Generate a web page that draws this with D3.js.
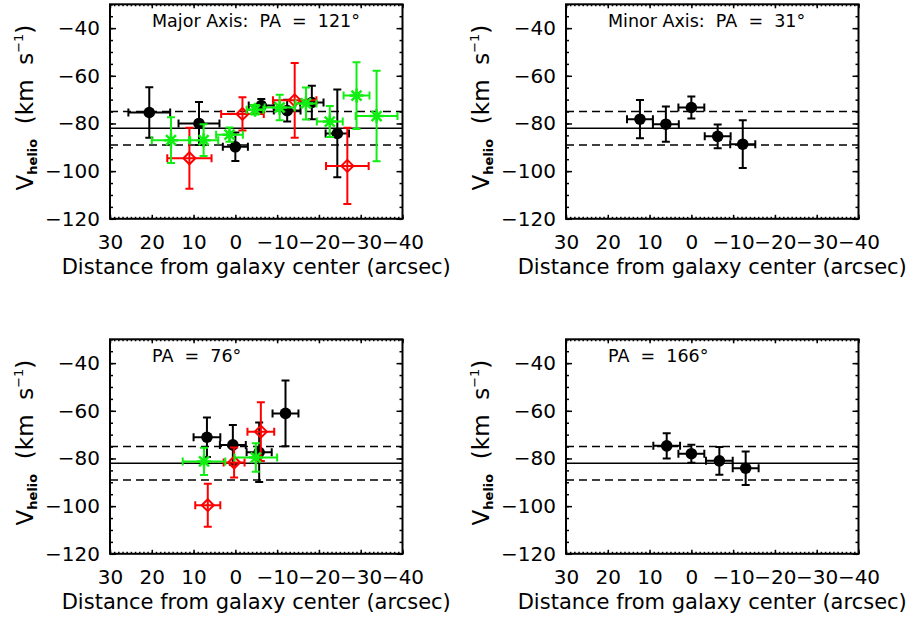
<!DOCTYPE html>
<html>
<head>
<meta charset="utf-8">
<script src="https://cdn.jsdelivr.net/npm/d3@7"></script>
<style>
body { margin: 0; background: #fff; }
text { font-family: "DejaVu Sans", sans-serif; white-space: pre; }
</style>
</head>
<body>
<script>
// tick values
var xTicks = [30, 20, 10, 0, -10, -20, -30, -40];
var yTicks = [-40, -60, -80, -100, -120];

// systemic velocity and its spread (horizontal lines)
var vSys = -82;
var vSpread = 7;

var titles = ["Major Axis:  PA  =  121°", "Minor Axis:  PA  =  31°", "PA  =  76°", "PA  =  166°"];

// Major axis, PA 121
var majBlackX  = [20.6, 8.7, 0, -6.2, -12.4, -18.3, -24.4];
var majBlackY  = [-75.4, -80, -89.8, -72.5, -74.6, -71.2, -84.2];
var majBlackXe = [5, 4.9, 3, 3, 3.2, 2.8, 2.8];
var majBlackYe = [10.6, 9, 6, 2.8, 4.6, 7, 18.4];

var majRedX  = [11, -1.7, -14.2, -26.8];
var majRedY  = [-94.6, -76, -70.3, -97.8];
var majRedXe = [5.3, 5.1, 5.2, 5.1];
var majRedYe = [12.8, 7, 15.7, 16];

var majGreenX  = [15.4, 7.6, 1.4, -4.7, -10.6, -16.9, -22.6, -29, -33.8];
var majGreenY  = [-87, -87, -84.7, -74.2, -73.3, -71.6, -79.2, -68.3, -76.9];
var majGreenXe = [4.6, 3.5, 3.2, 2, 3.6, 2.5, 3.1, 3.1, 5];
var majGreenYe = [9.6, 6.7, 3, 2, 5.3, 6.7, 6.5, 14, 19];

// Minor axis, PA 31
var minBlackX  = [12.3, 6.1, 0, -6.3, -12.3];
var minBlackY  = [-78.2, -80.3, -73.3, -85.4, -88.7];
var minBlackXe = [3.1, 3.1, 3.1, 3.1, 3];
var minBlackYe = [8, 7.4, 4.6, 5, 10];

// PA 76
var pa76BlackX  = [6.8, 0.6, -5.7, -12];
var pa76BlackY  = [-71.1, -74.3, -77.4, -61.1];
var pa76BlackXe = [3.2, 3.1, 3, 3.1];
var pa76BlackYe = [8.3, 8.3, 12.5, 13.8];

var pa76RedX  = [6.6, 0.3, -6.1];
var pa76RedY  = [-99.6, -81.7, -68.75];
var pa76RedXe = [3, 2.5, 3.2];
var pa76RedYe = [9, 6.3, 12.3];

var pa76GreenX  = [7.5, -4.9];
var pa76GreenY  = [-81.25, -79.6];
var pa76GreenXe = [5.1, 5.1];
var pa76GreenYe = [5.7, 6];

// PA 166
var pa166BlackX  = [5.9, 0, -6.7, -13];
var pa166BlackY  = [-74.7, -78, -81, -84.1];
var pa166BlackXe = [3.2, 3.1, 3.2, 3.1];
var pa166BlackYe = [5.3, 3.8, 5.8, 7];


function series(color, kind, xs, ys, xe, ye) {
    return xs.map(function(d, i) {
        return {color: color, kind: kind, x: d, y: ys[i], xe: xe[i], ye: ye[i]};
    });
}

var panelData = [
    [series("#000", "circle", majBlackX, majBlackY, majBlackXe, majBlackYe),
     series("#ff0000", "diamond", majRedX, majRedY, majRedXe, majRedYe),
     series("#11ee11", "star", majGreenX, majGreenY, majGreenXe, majGreenYe)],
    [series("#000", "circle", minBlackX, minBlackY, minBlackXe, minBlackYe)],
    [series("#000", "circle", pa76BlackX, pa76BlackY, pa76BlackXe, pa76BlackYe),
     series("#ff0000", "diamond", pa76RedX, pa76RedY, pa76RedXe, pa76RedYe),
     series("#11ee11", "star", pa76GreenX, pa76GreenY, pa76GreenXe, pa76GreenYe)],
    [series("#000", "circle", pa166BlackX, pa166BlackY, pa166BlackXe, pa166BlackYe)]
];

// layout of the four boxes
var w = 292.5, h = 214.5;
var origins = [[110, 4.3], [566, 4.3], [110, 339.3], [566, 339.3]];

var svg = d3.select("body").append("svg")
    .attr("width", 913)
    .attr("height", 624);

function styleAxis(sel, size) {
    sel.attr("font-size", size).attr("font-family", "DejaVu Sans, sans-serif");
    sel.select(".domain").remove();
    sel.selectAll(".tick line").attr("stroke", "#000").attr("stroke-width", 1.5);
    sel.selectAll(".tick text").attr("fill", "#000");
}

origins.forEach(function(o, p) {
    var g = svg.append("g").attr("transform", "translate(" + o[0] + "," + o[1] + ")");

    var x = d3.scaleLinear().domain([30, -40]).range([0, w]);
    var y = d3.scaleLinear().domain([-120, -30]).range([h, 0]);

    // major and minor ticks on all four sides, pointing inward
    var xMinor = d3.range(-40, 31, 1);
    var yMinor = d3.range(-120, -29, 5);

    g.append("g").attr("transform", "translate(0," + h + ")")
        .call(d3.axisBottom(x).tickValues(xMinor).tickSize(-2).tickFormat(""))
        .call(styleAxis, 20);
    g.append("g").attr("transform", "translate(0," + h + ")")
        .call(d3.axisBottom(x).tickValues(xTicks).tickSize(-4).tickPadding(16))
        .call(styleAxis, 20);
    g.append("g")
        .call(d3.axisTop(x).tickValues(xMinor).tickSize(-2).tickFormat(""))
        .call(styleAxis, 20);
    g.append("g")
        .call(d3.axisTop(x).tickValues(xTicks).tickSize(-4).tickFormat(""))
        .call(styleAxis, 20);

    g.append("g")
        .call(d3.axisLeft(y).tickValues(yMinor).tickSize(-3).tickFormat(""))
        .call(styleAxis, 20);
    g.append("g")
        .call(d3.axisLeft(y).tickValues(yTicks).tickSize(-6).tickPadding(10))
        .call(styleAxis, 20);
    g.append("g").attr("transform", "translate(" + w + ",0)")
        .call(d3.axisRight(y).tickValues(yMinor).tickSize(-3).tickFormat(""))
        .call(styleAxis, 20);
    g.append("g").attr("transform", "translate(" + w + ",0)")
        .call(d3.axisRight(y).tickValues(yTicks).tickSize(-6).tickFormat(""))
        .call(styleAxis, 20);

    // frame
    g.append("rect")
        .attr("width", w).attr("height", h)
        .attr("fill", "none").attr("stroke", "#000").attr("stroke-width", 2);

    // reference lines
    g.append("line")
        .attr("x1", 0).attr("x2", w)
        .attr("y1", y(vSys)).attr("y2", y(vSys))
        .attr("stroke", "#000").attr("stroke-width", 1.5);
    [vSys + vSpread, vSys - vSpread].forEach(function(v) {
        g.append("line")
            .attr("x1", 0).attr("x2", w)
            .attr("y1", y(v)).attr("y2", y(v))
            .attr("stroke", "#000").attr("stroke-width", 1.5)
            .attr("stroke-dasharray", "8,5");
    });

    // data with error bars
    panelData[p].forEach(function(s) {
        var pts = g.append("g").selectAll("g").data(s).enter().append("g")
            .attr("stroke", function(d) { return d.color; })
            .attr("stroke-width", 2)
            .attr("fill", "none");

        // vertical bar + caps
        pts.append("path").attr("d", function(d) {
            var cx = x(d.x), y1 = y(d.y + d.ye), y2 = y(d.y - d.ye);
            return "M" + cx + "," + y1 + "V" + y2 +
                "M" + (cx - 4) + "," + y1 + "H" + (cx + 4) +
                "M" + (cx - 4) + "," + y2 + "H" + (cx + 4);
        });
        // horizontal bar + caps
        pts.append("path").attr("d", function(d) {
            var cy = y(d.y), x1 = x(d.x + d.xe), x2 = x(d.x - d.xe);
            return "M" + x1 + "," + cy + "H" + x2 +
                "M" + x1 + "," + (cy - 4) + "V" + (cy + 4) +
                "M" + x2 + "," + (cy - 4) + "V" + (cy + 4);
        });

        pts.each(function(d) {
            var el = d3.select(this), cx = x(d.x), cy = y(d.y);
            if (d.kind == "circle") {
                el.append("circle").attr("cx", cx).attr("cy", cy).attr("r", 5.8)
                    .attr("fill", d.color).attr("stroke", "none");
            } else if (d.kind == "diamond") {
                var r = 6;
                el.append("path").attr("d", "M" + cx + "," + (cy - r) + "L" + (cx + r) + "," + cy +
                    "L" + cx + "," + (cy + r) + "L" + (cx - r) + "," + cy + "Z");
            } else {
                var a = 7, b = 5;
                el.append("path").attr("stroke-width", 2.5).attr("d",
                    "M" + (cx - a) + "," + cy + "H" + (cx + a) +
                    "M" + cx + "," + (cy - a) + "V" + (cy + a) +
                    "M" + (cx - b) + "," + (cy - b) + "L" + (cx + b) + "," + (cy + b) +
                    "M" + (cx - b) + "," + (cy + b) + "L" + (cx + b) + "," + (cy - b));
            }
        });
    });

    // panel title
    g.append("text")
        .attr("x", 42).attr("y", 23)
        .attr("font-size", 17.5)
        .text(titles[p]);

    // x axis title
    g.append("text")
        .attr("x", w / 2).attr("y", h + 55)
        .attr("text-anchor", "middle")
        .attr("font-size", 21)
        .text("Distance from galaxy center (arcsec)");

    // y axis title
    var yl = g.append("text")
        .attr("transform", "translate(" + (-77) + "," + (h / 2 - 4) + ") rotate(-90)")
        .attr("text-anchor", "middle")
        .attr("font-size", 23);
    yl.append("tspan").text("V");
    yl.append("tspan").attr("font-size", 13).attr("font-weight", "bold").attr("dy", 4).text("helio");
    yl.append("tspan").attr("dy", -4).text("  (km  s");
    yl.append("tspan").attr("font-size", 13).attr("dy", -10).text("−1");
    yl.append("tspan").attr("dy", 10).text(")");
});
</script>
</body>
</html>
